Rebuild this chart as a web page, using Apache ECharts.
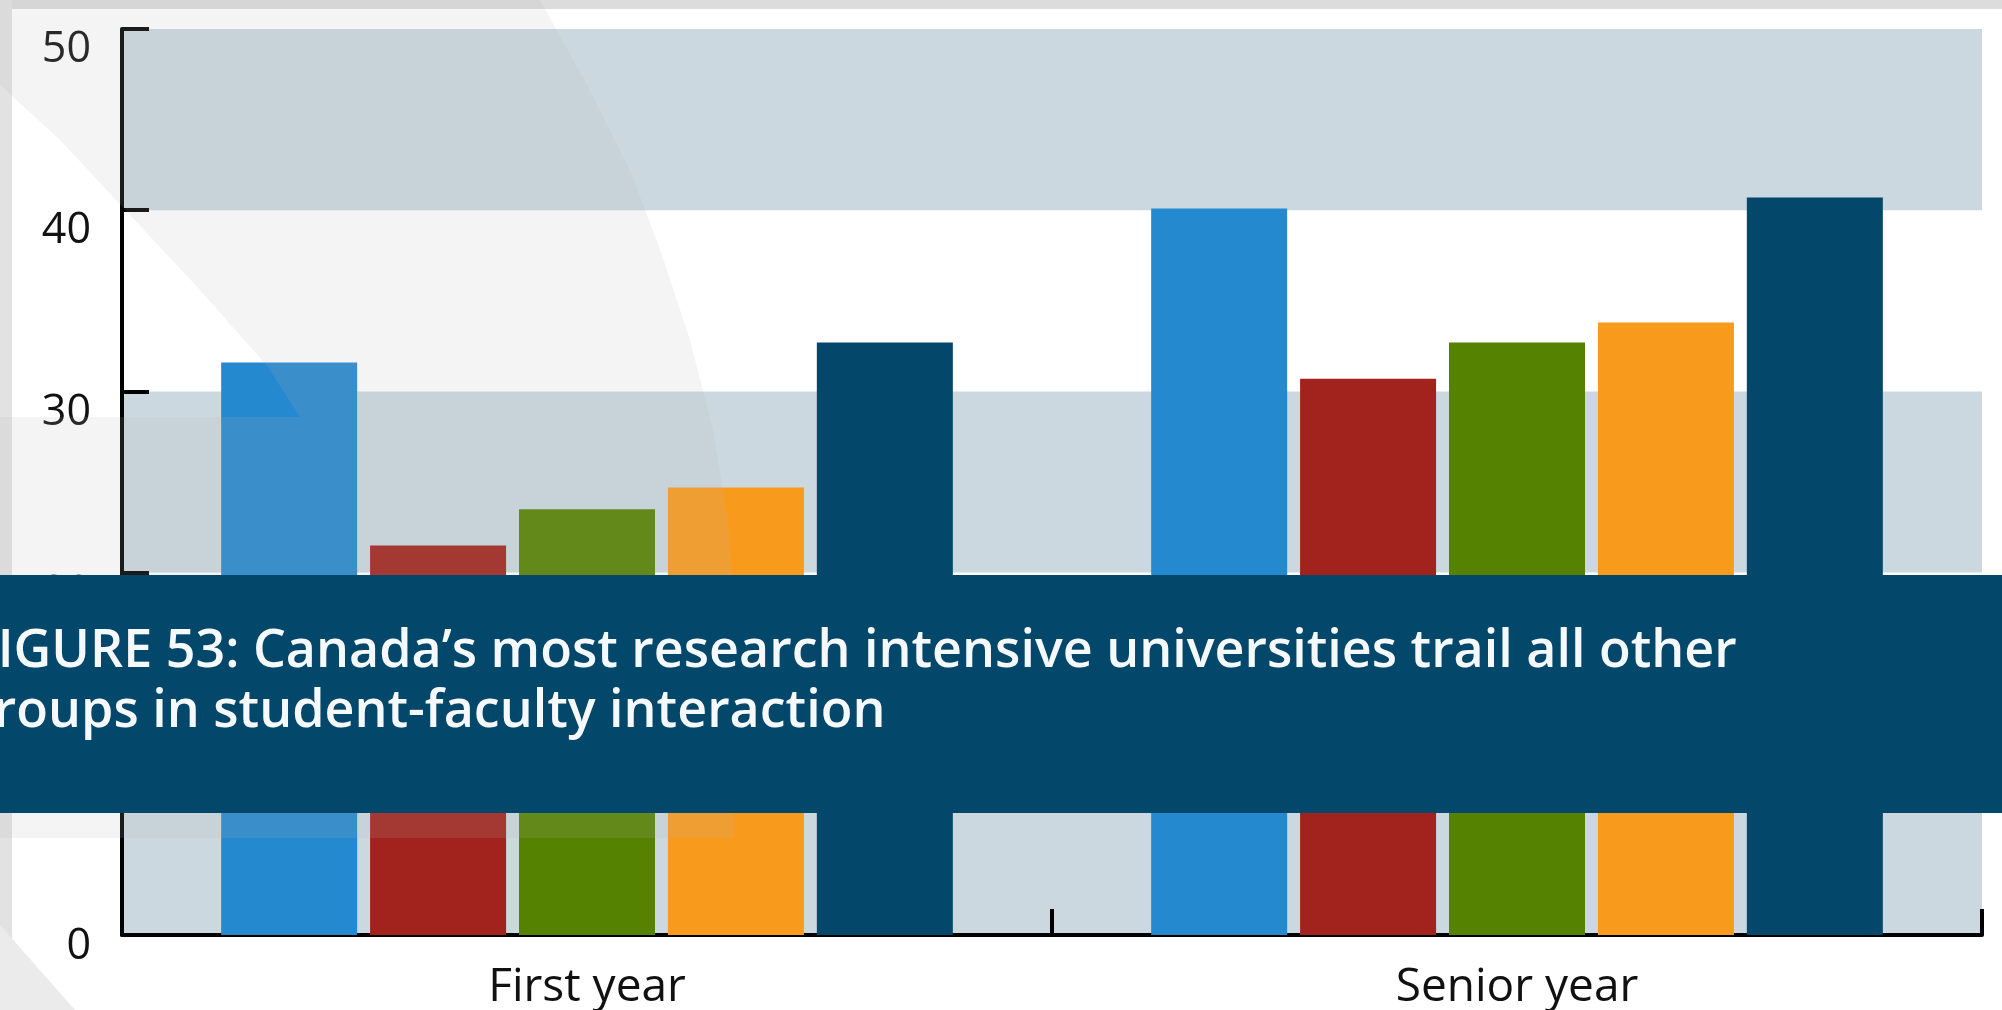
<!DOCTYPE html>
<html style="height: 100%">

<head>
  <meta charset="utf-8">
</head>

<body style="height: 100%; margin: 0">
  <div id="container" style="width: 2002px; height: 1010px"></div>
  <script src="https://cdn.jsdelivr.net/npm/echarts@6/dist/echarts.min.js"></script>
  <script type="text/javascript">
    var dom = document.getElementById("container");
    var myChart = echarts.init(dom);

    // categories and series values
    var categories = ['First year', 'Senior year'];
    var seriesNames = ['Group 1', 'Group 2', 'Group 3', 'Group 4', 'Group 5'];
    var group1 = [31.6, 40.1];
    var group2 = [21.5, 30.7];
    var group3 = [23.5, 32.7];
    var group4 = [24.7, 33.8];
    var group5 = [32.7, 40.7];
    var yTicks = [0, 10, 20, 30, 40, 50];

    var colors = ['#2589cf', '#a2231d', '#558201', '#f89b1d', '#03476b'];
    var titleLines = [
      'FIGURE 53: Canada\u2019s most research intensive universities trail all other',
      'groups in student-faculty interaction'
    ];

    var allData = [group1, group2, group3, group4, group5];
    var series = allData.map(function (d, i) {
      return {
        name: seriesNames[i],
        type: 'bar',
        data: d,
        barWidth: 136,
        barGap: '9.5%',
        itemStyle: { color: colors[i] }
      };
    });

    var option = {
      backgroundColor: '#ffffff',
      animation: false,
      color: colors,
      grid: {
        left: 122,
        right: 20,
        top: 29,
        bottom: 75,
        outerBoundsMode: 'none'
      },
      xAxis: {
        type: 'category',
        data: categories,
        axisLine: { lineStyle: { color: '#000', width: 4 } },
        axisTick: { show: true, inside: true, length: 26, lineStyle: { color: '#000', width: 4 } },
        axisLabel: {
          fontSize: 46,
          fontFamily: 'Open Sans',
          color: '#111',
          margin: 30,
          lineHeight: 46
        }
      },
      yAxis: {
        type: 'value',
        min: yTicks[0],
        max: yTicks[yTicks.length - 1],
        interval: 10,
        axisLine: { show: true, lineStyle: { color: '#000', width: 4 } },
        axisTick: { show: true, inside: true, length: 27, lineStyle: { color: '#000', width: 4 } },
        axisLabel: {
          fontSize: 43,
          fontFamily: 'Open Sans',
          color: '#111',
          margin: 31,
          verticalAlign: 'top',
          formatter: function (v) {
            return v === 0 ? '{z|0}' : '{n|' + v + '}';
          },
          rich: {
            z: { fontSize: 43, fontFamily: 'Open Sans', color: '#111', lineHeight: 24 },
            n: { fontSize: 43, fontFamily: 'Open Sans', color: '#111', lineHeight: 42 }
          }
        },
        splitLine: { show: false },
        splitArea: {
          show: true,
          areaStyle: { color: ['#cbd8e0', 'rgba(255,255,255,0)'] }
        }
      },
      graphic: [
        // page decoration
        { type: 'rect', z: -1, shape: { x: 0, y: 0, width: 2002, height: 9 }, style: { fill: '#dcdcdc' } },
        { type: 'rect', z: -1, shape: { x: 0, y: 0, width: 12, height: 1010 }, style: { fill: '#e2e2e2' } },
        { type: 'polygon', z: -1, shape: { points: [[0, 925], [75, 1010], [0, 1010]] }, style: { fill: '#ebebeb' } },
        {
          type: 'polygon', z: 5, silent: true,
          shape: {
            points: [[0, 0], [540, 0], [590, 90], [630, 170], [662, 255], [690, 340], [712, 425],
              [728, 520], [734, 600], [734, 838], [0, 838], [0, 417], [300, 417], [268, 367],
              [200, 290], [130, 215], [60, 140], [13, 97], [0, 85]]
          },
          style: { fill: 'rgba(180,180,180,0.15)' }
        },
        // caption banner over the chart
        { type: 'rect', z: 10, shape: { x: 0, y: 575, width: 2002, height: 238 }, style: { fill: '#03476b' } },
        {
          type: 'text', z: 11, x: -30, y: 652,
          style: {
            text: titleLines[0], fill: '#f5f9fb', fontSize: 52, fontWeight: 600,
            fontFamily: 'Open Sans', verticalAlign: 'middle'
          }
        },
        {
          type: 'text', z: 11, x: -35, y: 712,
          style: {
            text: titleLines[1], fill: '#f5f9fb', fontSize: 52, fontWeight: 600,
            fontFamily: 'Open Sans', verticalAlign: 'middle'
          }
        }
      ],
      series: series
    };

    if (option && typeof option === "object") {
      myChart.setOption(option, true);
    }
  </script>
</body>

</html>
